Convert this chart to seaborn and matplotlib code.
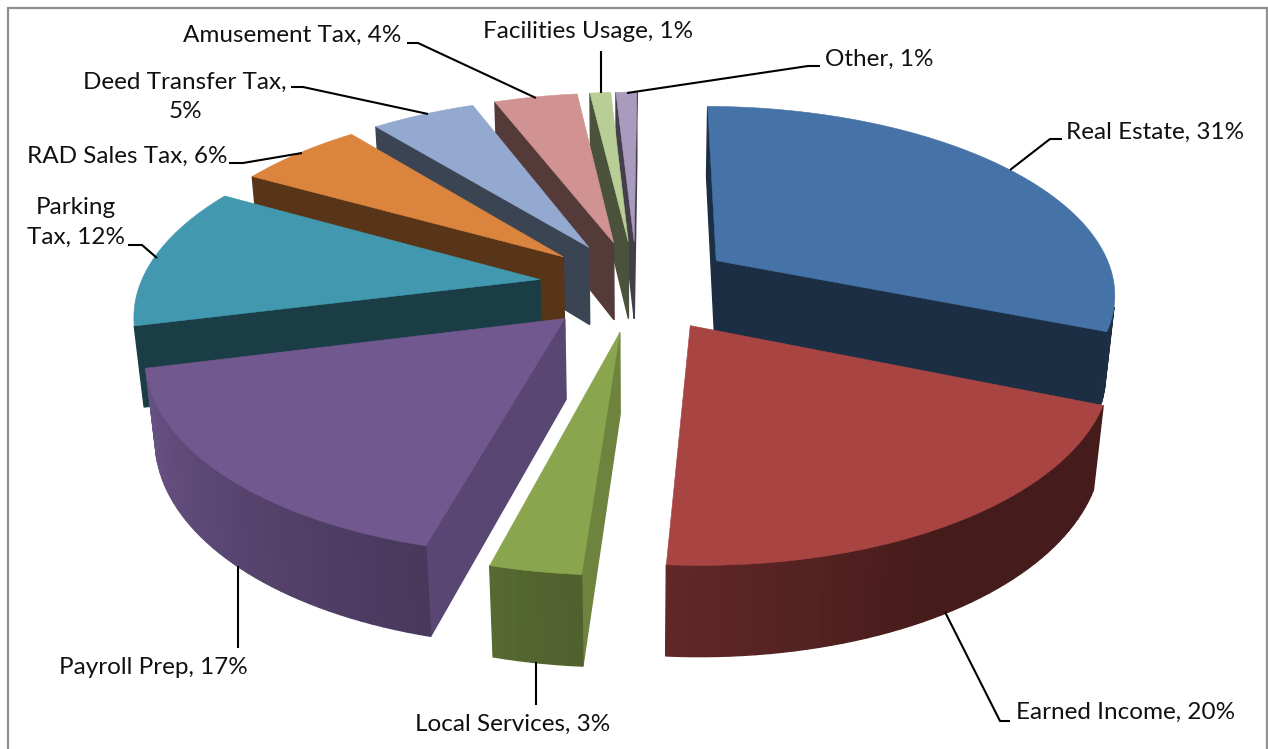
import numpy as np
import matplotlib
matplotlib.use("Agg")
import matplotlib.pyplot as plt
from matplotlib.patches import Polygon, Rectangle
import seaborn as sns

# Revenue shares, clockwise from just past twelve o'clock
categories = ["Real Estate", "Earned Income", "Local Services", "Payroll Prep", "Parking Tax",
              "RAD Sales Tax", "Deed Transfer Tax", "Amusement Tax", "Facilities Usage", "Other"]
shares = [31, 20, 3, 17, 12, 6, 5, 4, 1, 1]
slice_colors = ["#4572A7", "#A84442", "#89A54E", "#71588F", "#4198AF",
                "#DB843D", "#93A9CF", "#D19392", "#B9CD96", "#A99BBD"]

# Label placement in figure pixels: text anchor, alignment, leader path
label_text = ["Real Estate, 31%", "Earned Income, 20%", "Local Services, 3%", "Payroll Prep, 17%",
              "Parking\nTax, 12%", "RAD Sales Tax, 6%", "Deed Transfer Tax,\n5%",
              "Amusement Tax, 4%", "Facilities Usage, 1%", "Other, 1%"]
label_anchor = [(1155, 132), (1126, 712), (513, 724), (153, 668), (76, 222),
                (127, 156), (185, 97), (292, 35), (588, 31), (879, 59)]
leaders = [[(1010, 170), (1050, 139), (1062, 139)],
           [(945, 612), (1000, 721), (1010, 721)],
           [(536, 662), (536, 705)],
           [(238, 566), (238, 648)],
           [(128, 245), (142, 245), (157, 258)],
           [(229, 163), (243, 163), (302, 153)],
           [(291, 87), (303, 87), (428, 114)],
           [(407, 43), (418, 43), (536, 98)],
           [(601, 51), (601, 93)],
           [(627, 93), (808, 66), (820, 66)]]

# Pinhole camera for the tilted pie
CX, CY = 636.5, 285.5
DIST = 5.48
FOCAL = 400 * DIST
ELEV = np.radians(27.8)
THICK = 0.228
EXPLODE = 0.245
START_ANGLE = 0.4
FONT = "Lato"


def project(x, y, z):
    depth = DIST + y * np.cos(ELEV) - z * np.sin(ELEV)
    up = y * np.sin(ELEV) + z * np.cos(ELEV)
    return CX + FOCAL * x / depth, CY - FOCAL * up / depth


def shaded(color, f):
    return tuple(min(1, c * f) for c in matplotlib.colors.to_rgb(color))


def rim_shade(angle):
    # Curved walls lighten towards the left of the pie
    return 0.41 if angle < 150 else 0.41 + (angle - 150) * 0.53 / 105


def signed_area(pts):
    p = np.asarray(pts)
    q = np.roll(p, -1, axis=0)
    return np.sum(p[:, 0] * q[:, 1] - q[:, 0] * p[:, 1])


sns.set_theme(style="white")
palette = sns.color_palette(slice_colors)

fig = plt.figure(figsize=(12.68, 7.49), dpi=100)
ax = fig.add_axes([0, 0, 1, 1])
ax.set_xlim(0, 1268)
ax.set_ylim(749, 0)
ax.axis("off")
ax.add_patch(Rectangle((7.5, 8), 1259, 760, fc="white", ec="#8f8f8f", lw=1.6, zorder=0))

edges = START_ANGLE + np.cumsum([0] + shares) * 3.6
slices = []
for i, color in enumerate(palette):
    a0, a1 = edges[i], edges[i + 1]
    mid = np.radians((a0 + a1) / 2)
    ox, oy = EXPLODE * np.sin(mid), EXPLODE * np.cos(mid)
    angles = np.linspace(a0, a1, max(3, int((a1 - a0) / 1.5) + 1))
    rim = [(ox + np.sin(np.radians(a)), oy + np.cos(np.radians(a))) for a in angles]
    slices.append((oy, color, a0, a1, (ox, oy), angles, rim))

# Paint from the back of the pie to the front
z = 1
for oy, color, a0, a1, apex, angles, rim in sorted(slices, key=lambda s: -s[0]):
    mid_angle = (a0 + a1) / 2
    cut_shade = 0.8 if 180 < mid_angle < 260 else 0.4
    outline = [apex] + rim
    walls = [(apex, rim[0], cut_shade)]
    for k in range(len(rim) - 1):
        walls.append((rim[k], rim[k + 1], rim_shade((angles[k] + angles[k + 1]) / 2)))
    walls.append((rim[-1], apex, cut_shade))

    faces = []
    for p, q, f in walls:
        quad = [project(*p, 0), project(*q, 0), project(*q, -THICK), project(*p, -THICK)]
        if signed_area(quad) < 0:
            dist = (p[1] + q[1]) / 2
            faces.append((dist, quad, shaded(color, f)))
    for dist, quad, fc in sorted(faces, key=lambda t: -t[0]):
        ax.add_patch(Polygon(quad, closed=True, fc=fc, ec=fc, lw=1.0, zorder=z))
        z += 1
    top = [project(x, y, 0) for x, y in outline]
    ax.add_patch(Polygon(top, closed=True, fc=color, ec=color, lw=0.4, zorder=z))
    z += 1

for path in leaders:
    xs, ys = zip(*path)
    ax.plot(xs, ys, color="black", lw=1.5, solid_capstyle="butt", zorder=z)
for txt, (x, y) in zip(label_text, label_anchor):
    ax.text(x, y, txt, family=FONT, fontsize=17.5, color="#111111", ha="center", va="center",
            multialignment="center", linespacing=1.52, zorder=z + 1)

fig.savefig("out.png", dpi=100, facecolor="white")
